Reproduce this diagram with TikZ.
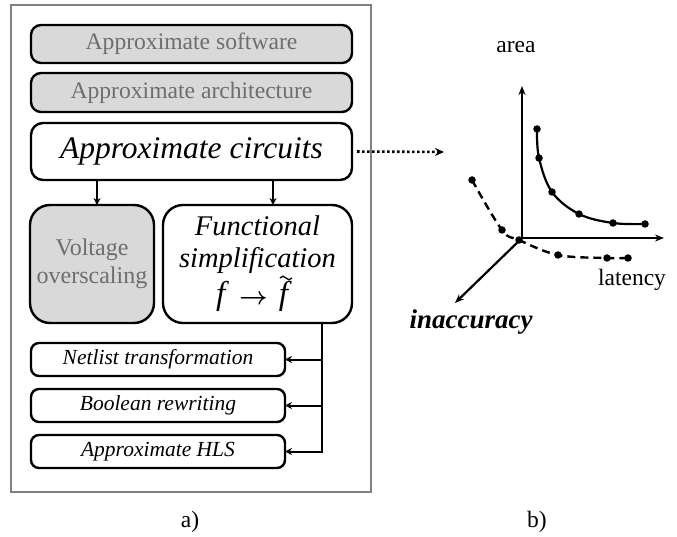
\documentclass[tikz,border=0pt]{standalone}
\usepackage{fontspec}
\setmainfont{Liberation Serif}
\usetikzlibrary{arrows.meta}
\definecolor{boxgray}{HTML}{D9D9D9}
\definecolor{textgray}{HTML}{6E6E6E}
\definecolor{framegray}{HTML}{808080}
\newcommand{\fsz}[2]{\fontsize{#1}{#2}\selectfont}
\tikzset{
  every node/.style={inner sep=0pt, outer sep=0pt},
  layer/.style={draw, line width=2.4pt, rounded corners=10pt, fill=boxgray,
    text=textgray, font=\fsz{23.6}{26}},
  mainbox/.style={draw, line width=2.4pt, rounded corners=12pt, fill=white,
    font=\fsz{31.5}{36}\itshape},
  bigbox/.style={draw, line width=2.4pt, rounded corners=20pt, align=center},
  smallbox/.style={draw, line width=2.4pt, rounded corners=8pt, fill=white,
    minimum width=254pt, minimum height=33pt, font=\fsz{21.5}{24}\itshape},
  arr/.style={line width=2pt, -{Stealth[length=7pt,width=7pt]}},
  axis/.style={line width=2.2pt, -{Stealth[length=9pt,width=7pt]}},
  dotarr/.style={line width=2.6pt, dash pattern=on 2.6pt off 2.4pt,
    -{Stealth[length=9pt,width=8pt]}},
  pt/.style={circle, fill=black, minimum size=7.5pt},
  lbl/.style={font=\fsz{23.5}{26}},
}
\begin{document}
\begin{tikzpicture}[x=1pt, y=-1pt]
  \useasboundingbox (0,0) rectangle (677,537);

  % outer frame of panel a
  \draw[framegray, line width=1.2pt] (11,5) rectangle (371,492);

  % abstraction layers
  \node[layer, minimum width=321pt, minimum height=38pt] (sw) at (191.5,44) {Approximate software};
  \node[layer, minimum width=321pt, minimum height=39pt] (arch) at (191.5,92.5) {Approximate architecture};
  \node[mainbox, minimum width=321pt, minimum height=57pt] (circ) at (191.5,151.5) {Approximate circuits};

  % two approaches
  \node[bigbox, fill=boxgray, text=textgray, minimum width=124pt, minimum height=118pt,
        font=\fsz{24}{28}] (vol) at (92,264) {Voltage\\overscaling};
  \node[bigbox, fill=white, minimum width=189pt, minimum height=118pt] (func) at (257.5,264) {};
  \node[align=center, font=\fsz{28.5}{32}\itshape] (ftext) at (257.5,245)
        {Functional\\simplification};
  \node[anchor=base, font=\fsz{33}{34}\itshape] (fmap) at (252,305)
        {f\hspace{14pt}{\boldmath$\rightarrow$}\hspace{11pt}f};
  % tilde over the second f
  \draw[line width=1.3pt] ([shift={(-8pt,27pt)}]fmap.base east)
    sin ++(3,-1.8) cos ++(3,1.8) sin ++(3,1.8) cos ++(3,-1.8);

  % techniques
  \node[smallbox] (net) at (158,359.5) {Netlist transformation};
  \node[smallbox] (bool) at (158,405.5) {Boolean rewriting};
  \node[smallbox] (hls) at (158,451.5) {Approximate HLS};

  % connectors
  \path (vol.north) ++(5,0) coordinate (va);
  \path (func.north) ++(15.5,0) coordinate (fa);
  \draw[arr] (va |- circ.south) -- (va);
  \draw[arr] (fa |- circ.south) -- (fa);
  \path (func.south) ++(64.5,0) coordinate (fb);
  \draw[line width=2pt] (fb) -- (fb |- hls.east);
  \draw[arr] (fb |- net.east) -- (net.east);
  \draw[arr] (fb |- bool.east) -- (bool.east);
  \draw[arr] (fb) |- (hls.east);

  % link to the design space
  \coordinate (dotend) at (444,152);
  \draw[dotarr, shorten <=5pt] (circ.east) -- (dotend);

  % axes
  \coordinate (O) at (522,238);
  \coordinate (yend) at (522,86);
  \coordinate (xend) at (664,238);
  \coordinate (zend) at (455,303);
  \draw[axis] (O) -- (yend);
  \draw[axis] (O) -- (xend);
  \draw[axis] (O) -- (zend);
  \node[lbl] (area) at (516,47) {area};
  \node[lbl] (lat) at (632,280) {latency};
  \node[font=\fsz{27}{30}\bfseries\itshape] (inacc) at (471,322) {inaccuracy};

  % trade-off curves
  \draw[line width=2.2pt] plot[smooth, tension=0.6] coordinates
    {(537,129) (539,158) (552,192) (579,214) (613,223) (645,224)};
  \draw[line width=2.4pt, dash pattern=on 8pt off 5pt] plot[smooth, tension=0.6] coordinates
    {(472,180) (502,230) (519,240) (558,255) (607,258) (628,258)};
  \foreach \p [count=\i] in {(537,129),(539,158),(552,192),(579,214),(613,223),(645,224)}
    \node[pt] (s\i) at \p {};
  \foreach \p [count=\i] in {(472,180),(502,230),(519,240),(558,255),(607,258),(628,258)}
    \node[pt] (d\i) at \p {};

  % panel captions
  \node[lbl] (capa) at (190,522) {a)};
  \node[lbl] (capb) at (537,522) {b)};
\end{tikzpicture}
\end{document}
